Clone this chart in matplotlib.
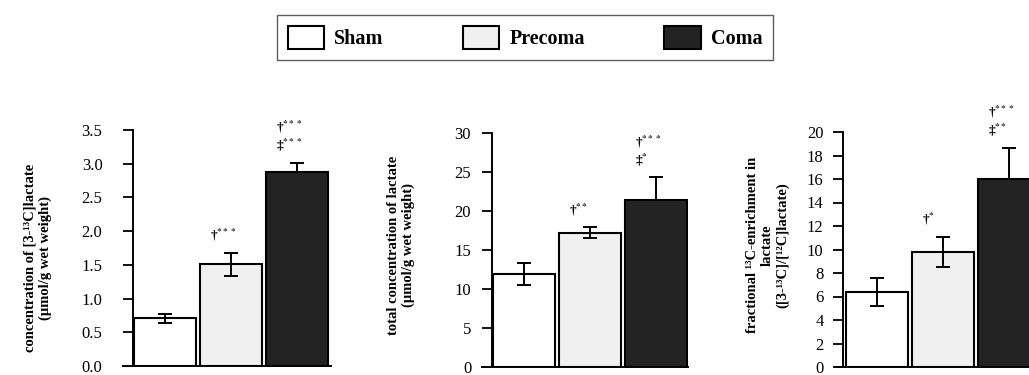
import matplotlib.pyplot as plt

plt.rcParams['font.family'] = ['Liberation Serif', 'DejaVu Serif']
plt.rcParams['mathtext.fontset'] = 'stix'

groups = ["Sham", "Precoma", "Coma"]
colors = ["white", "#f0f0f0", "#232323"]

lac13_mean = [0.71, 1.51, 2.88]
lac13_err = [0.065, 0.17, 0.13]
lac13_marks = ["", "†$^{\\mathbf{***}}$", "†$^{\\mathbf{***}}$\n‡$^{\\mathbf{***}}$"]

lactot_mean = [11.9, 17.2, 21.4]
lactot_err = [1.45, 0.7, 2.9]
lactot_marks = ["", "†$^{\\mathbf{**}}$", "†$^{\\mathbf{***}}$\n‡$^{\\mathbf{*}}$"]

enrich_mean = [6.4, 9.8, 16.0]
enrich_err = [1.2, 1.26, 2.66]
enrich_marks = ["", "†$^{\\mathbf{*}}$", "†$^{\\mathbf{***}}$\n‡$^{\\mathbf{**}}$"]

W, H = 1029, 375
fig = plt.figure(figsize=(W / 100, H / 100), dpi=100)


def panel(px, means, errs, marks, ymax, yticks, fmt, pad):
    # px: axes left, y-axis, first bar left, bar spacing, axes right, top, bottom (pixels)
    x0, xaxis, bleft, step, x1, ytop, ybot = px
    ax = fig.add_axes([x0 / W, 1 - ybot / H, (x1 - x0) / W, (ybot - ytop) / H])
    wid = 62 / step
    left = -wid / 2 - (bleft - x0) / step
    x = range(len(means))
    bars = ax.bar(x, means, width=wid, color=colors, edgecolor="black", linewidth=1.5, zorder=2)
    for i, (m, e) in enumerate(zip(means, errs)):
        yerr = [[0], [e]] if i == 2 else [[e], [e]]
        ax.errorbar(i, m, yerr=yerr, fmt="none", ecolor="black", elinewidth=1.4, capsize=5,
                    capthick=1.4, zorder=3)
        if marks[i]:
            ax.annotate(marks[i], xy=(i - 0.32, m + e), xytext=(0, 7), textcoords="offset points",
                        ha="left", va="bottom", fontsize=9.5, fontweight="bold", linespacing=1.15,
                        annotation_clip=False)
    ax.set_ylim(0, ymax)
    ax.set_xlim(left, left + (x1 - x0) / step)
    ax.spines["left"].set_position(("data", left + (xaxis - x0) / step))
    ax.set_yticks(yticks)
    ax.set_yticklabels([fmt.format(t) for t in yticks], fontsize=12)
    ax.set_xticks([])
    for s in ["top", "right"]:
        ax.spines[s].set_visible(False)
    ax.spines["left"].set_linewidth(1.4)
    ax.spines["bottom"].set_linewidth(1.4)
    ax.tick_params(axis="y", length=7, width=1.3, pad=pad)
    return bars


bars = panel((123, 133, 134, 66, 331, 130, 366), lac13_mean, lac13_err, lac13_marks, 3.5,
             [0, 0.5, 1, 1.5, 2, 2.5, 3, 3.5], "{:.1f}", 15)
panel((482, 492, 493, 66, 688, 133, 367), lactot_mean, lactot_err, lactot_marks, 30,
      [0, 5, 10, 15, 20, 25, 30], "{:.0f}", 8)
panel((835, 843, 846, 66, 1045, 132, 367), enrich_mean, enrich_err, enrich_marks, 20,
      list(range(0, 21, 2)), "{:.0f}", 7)

lab = dict(rotation=90, ha="center", va="center", fontsize=10.5, fontweight="bold", linespacing=1.2)
fig.text(38 / W, 1 - 258 / H, "concentration of [3-¹³C]lactate\n(µmol/g wet weight)", **lab)
fig.text(401 / W, 1 - 245 / H, "total concentration of lactate\n(µmol/g wet weight)", **lab)
fig.text(768 / W, 1 - 245 / H, "fractional ¹³C-enrichment in\nlactate\n([3-¹³C]/[¹²C]lactate)", **lab)

leg = fig.legend(bars, groups, loc="center", bbox_to_anchor=(525 / W, 1 - 37.5 / H), ncol=3,
                 prop={"size": 14.5, "weight": "bold"}, frameon=True, fancybox=False,
                 handlelength=1.8, handleheight=1.4, handletextpad=0.5, columnspacing=3.95,
                 borderpad=0.55, borderaxespad=0)
leg.get_frame().set_edgecolor("#333333")
leg.get_frame().set_linewidth(1.0)

fig.savefig("out.png", dpi=100)
